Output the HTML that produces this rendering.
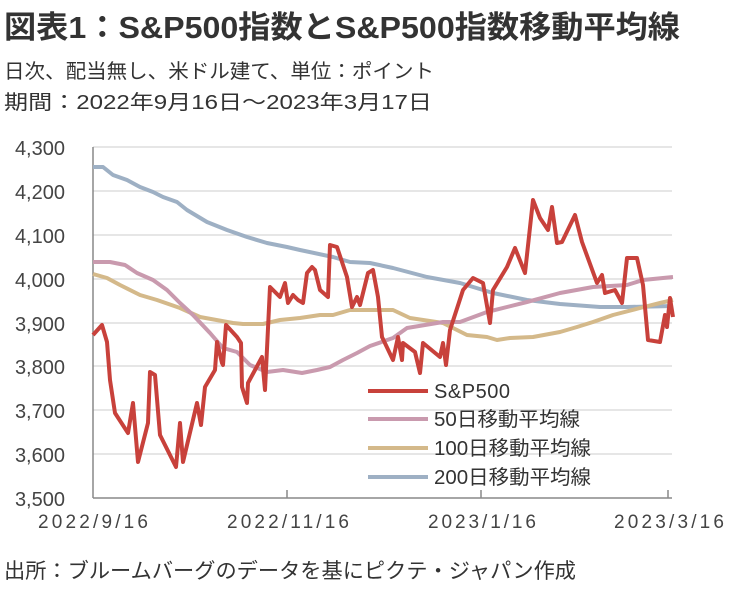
<!DOCTYPE html>
<html><head><meta charset="utf-8"><style>
body{margin:0;width:736px;height:591px;background:#fff;font-family:"Liberation Sans","Noto Sans CJK JP",sans-serif;color:#333;overflow:hidden}
</style></head><body>
<svg width="736" height="591" xmlns="http://www.w3.org/2000/svg" style="position:absolute;left:0;top:0">
<text x="4" y="38" font-size="31" font-weight="bold" fill="#333" textLength="676" lengthAdjust="spacingAndGlyphs" font-family="Liberation Sans,Noto Sans CJK JP,sans-serif">図表1：S&amp;P500指数とS&amp;P500指数移動平均線</text>
<text x="4" y="78" font-size="20" fill="#333" textLength="430" lengthAdjust="spacingAndGlyphs" font-family="Liberation Sans,Noto Sans CJK JP,sans-serif">日次、配当無し、米ドル建て、単位：ポイント</text>
<text x="4" y="109" font-size="20" fill="#333" textLength="428" lengthAdjust="spacingAndGlyphs" font-family="Liberation Sans,Noto Sans CJK JP,sans-serif">期間：2022年9月16日～2023年3月17日</text>
<g stroke="#ddd" stroke-width="1.5">
<line x1="93" y1="147" x2="672" y2="147"/><line x1="93" y1="191" x2="672" y2="191"/><line x1="93" y1="235" x2="672" y2="235"/><line x1="93" y1="279" x2="672" y2="279"/><line x1="93" y1="323" x2="672" y2="323"/><line x1="93" y1="366" x2="672" y2="366"/><line x1="93" y1="410" x2="672" y2="410"/><line x1="93" y1="454" x2="672" y2="454"/>
</g>
<g stroke="#888" stroke-width="1.5">
<line x1="93" y1="147" x2="93" y2="498"/><line x1="93" y1="498" x2="672" y2="498"/>
<line x1="287" y1="490" x2="287" y2="498"/><line x1="481" y1="490" x2="481" y2="498"/><line x1="668" y1="490" x2="668" y2="498"/>
</g>
<g font-size="20" fill="#444" text-anchor="end" font-family="Liberation Sans,sans-serif">
<text x="65" y="155">4,300</text><text x="65" y="199">4,200</text><text x="65" y="243">4,100</text><text x="65" y="287">4,000</text><text x="65" y="331">3,900</text><text x="65" y="374">3,800</text><text x="65" y="418">3,700</text><text x="65" y="462">3,600</text><text x="65" y="506">3,500</text>
</g>
<g font-size="19" fill="#444" font-family="Liberation Sans,sans-serif">
<text x="38" y="528" textLength="110" lengthAdjust="spacing">2022/9/16</text>
<text x="227" y="528" textLength="122" lengthAdjust="spacing">2022/11/16</text>
<text x="428" y="528" textLength="108" lengthAdjust="spacing">2023/1/16</text>
<text x="614" y="528" textLength="110" lengthAdjust="spacing">2023/3/16</text>
</g>
<g fill="none" stroke-width="4" stroke-linejoin="round">
<polyline stroke="#9eb0c4" points="93,167 103,167 113,175 127,180 140,187 153,192 163,197 177,202 187,210 207,222 227,230 247,237 267,243 287,247 300,250 333,257 350,262 370,263 393,268 427,277 460,283 493,293 527,300 560,304 600,307 627,307 673,306"/>
<polyline stroke="#d4b98a" points="93,274 107,278 120,285 140,295 157,300 180,308 200,317 233,323 243,324 263,324 280,320 300,318 320,315 333,315 350,310 370,310 393,310 410,318 443,323 467,335 487,337 497,340 510,338 533,337 560,332 577,327 593,322 613,315 640,308 660,303 673,300"/>
<polyline stroke="#c99aae" points="93,262 110,262 125,265 137,273 153,280 167,290 180,303 193,315 210,333 223,348 237,352 250,365 267,372 283,370 302,373 317,370 330,367 343,360 357,353 370,346 393,338 407,328 443,322 460,322 487,312 527,302 560,293 593,287 627,285 643,280 673,277"/>
<polyline stroke="#c8413b" points="93,335 102,325 107,342 110,380 115,413 128,433 133,403 138,462 148,423 150,372 155,375 160,435 170,455 176,467 180,423 183,462 197,403 201,425 205,387 215,370 217,342 222,363 223,365 226,325 237,337 241,343 242,387 247,403 248,383 262,357 265,390 270,287 280,297 285,283 288,303 293,295 298,300 303,303 307,273 312,267 315,270 320,290 328,297 330,245 337,247 347,277 352,307 357,297 360,305 368,273 373,270 378,297 382,337 393,360 398,337 402,360 403,343 415,352 420,373 423,343 440,357 443,343 446,365 450,330 463,290 473,278 483,283 490,323 493,290 507,267 515,248 525,273 533,200 540,218 548,230 552,207 557,243 562,242 575,215 582,242 597,283 602,275 605,293 615,290 622,303 627,258 637,258 643,285 648,340 660,342 665,315 667,327 670,298 673,317"/>
</g>
<g stroke-width="4">
<line x1="368" y1="391" x2="428" y2="391" stroke="#c8413b"/>
<line x1="368" y1="419" x2="428" y2="419" stroke="#c99aae"/>
<line x1="368" y1="448" x2="428" y2="448" stroke="#d4b98a"/>
<line x1="368" y1="477" x2="428" y2="477" stroke="#9eb0c4"/>
</g>
<g font-size="20" fill="#333" font-family="Liberation Sans,Noto Sans CJK JP,sans-serif">
<text x="434" y="398" textLength="76" lengthAdjust="spacing">S&amp;P500</text><text x="434" y="426" textLength="146" lengthAdjust="spacingAndGlyphs">50日移動平均線</text><text x="434" y="455" textLength="157" lengthAdjust="spacingAndGlyphs">100日移動平均線</text><text x="434" y="484" textLength="157" lengthAdjust="spacingAndGlyphs">200日移動平均線</text>
</g>
<text x="4" y="578" font-size="21" fill="#333" textLength="572" lengthAdjust="spacingAndGlyphs" font-family="Liberation Sans,Noto Sans CJK JP,sans-serif">出所：ブルームバーグのデータを基にピクテ・ジャパン作成</text>
</svg>
</body></html>
